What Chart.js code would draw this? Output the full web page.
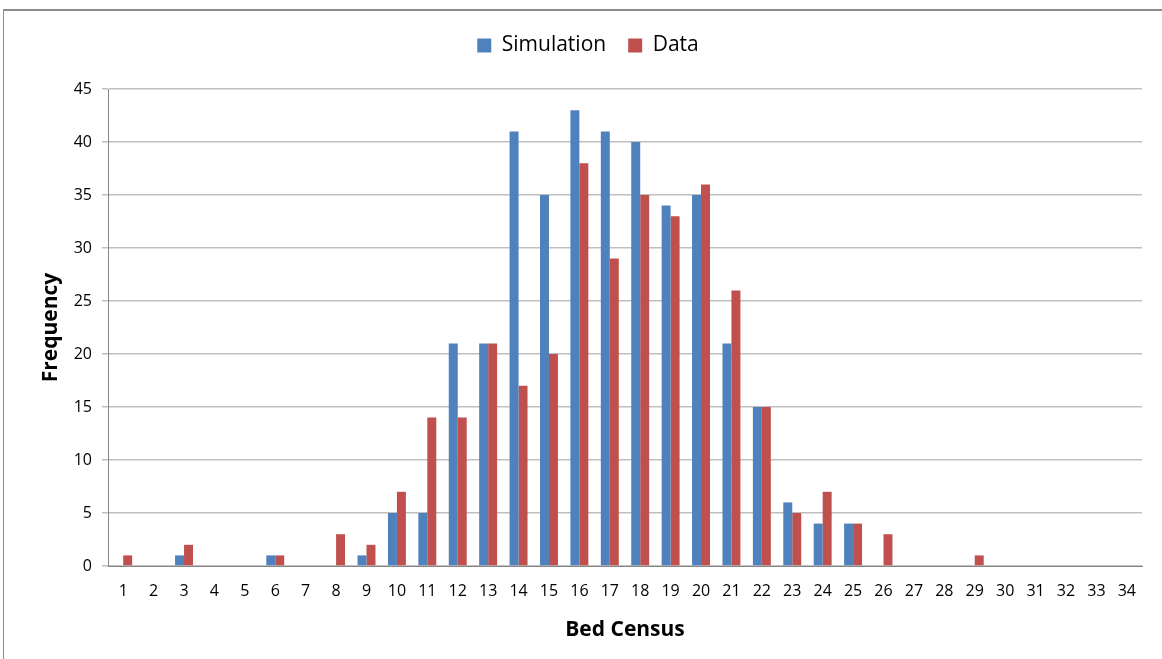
<!DOCTYPE html>
<html>
<head>
<meta charset="utf-8">
<script src="https://cdn.jsdelivr.net/npm/chart.js@4.4.0/dist/chart.umd.min.js"></script>
<style>
  html, body { margin: 0; padding: 0; background: #fff; }
  #frame {
    position: absolute; left: 3px; top: 9px; width: 1170px; height: 660px;
    border-top: 2px solid #8c8c8c; border-left: 1px solid #8c8c8c;
  }
  #wrap { position: absolute; left: 0; top: 0; width: 1162px; height: 659px; }
</style>
</head>
<body>
<div id="frame"></div>
<div id="wrap"><canvas id="chart"></canvas></div>
<script>
// bed census categories 1..34
const censusLabels = ['1','2','3','4','5','6','7','8','9','10','11','12','13','14','15','16','17',
  '18','19','20','21','22','23','24','25','26','27','28','29','30','31','32','33','34']

const simulationValues = [0,0,1,0,0,1,0,0,1,5,5,21,21,41,35,43,41,40,34,35,21,15,6,4,4,0,0,0,0,0,0,0,0,0]
const dataValues       = [1,0,2,0,0,1,0,3,2,7,14,14,21,17,20,38,29,35,33,36,26,15,5,7,4,3,0,0,1,0,0,0,0,0]

const fontFamily = "'Open Sans', 'Liberation Sans', sans-serif"

// empty box between legend and plot area, to push the plot down
const spacer = {
  id: 'spacer',
  beforeInit(chart) {
    Chart.layouts.addBox(chart, {
      position: 'top', weight: 0, fullSize: true, options: {},
      isHorizontal() { return true },
      update(maxWidth) { this.width = maxWidth; this.height = 23 },
      draw() {},
    })
  },
}

const chart = new Chart(document.getElementById('chart'), {
  type: 'bar',
  data: {
    labels: censusLabels,
    datasets: [
      { label: 'Simulation', data: simulationValues, backgroundColor: '#4f81bd' },
      { label: 'Data', data: dataValues, backgroundColor: '#c0504d' },
    ],
  },
  plugins: [spacer],
  options: {
    responsive: true,
    maintainAspectRatio: false,
    animation: false,
    datasets: { bar: { categoryPercentage: 0.59, barPercentage: 1.0 } },
    layout: { padding: { left: 34, right: 20, top: 13, bottom: 16 } },
    plugins: {
      tooltip: { enabled: false },
      legend: {
        position: 'top',
        labels: {
          color: '#000',
          font: { family: fontFamily, size: 21 },
          boxWidth: 14,
          boxHeight: 14,
          padding: 22,
        },
      },
    },
    scales: {
      x: {
        grid: { display: false, drawTicks: false },
        border: { color: '#868686', width: 1 },
        ticks: { color: '#000', font: { family: fontFamily, size: 16 }, padding: 16, maxRotation: 0, autoSkip: false },
        title: {
          display: true, text: 'Bed Census', color: '#000',
          font: { family: fontFamily, size: 21, weight: 'bold' }, padding: { top: 4, bottom: 0 },
        },
        afterFit: (scale) => { scale.height = 77 },
      },
      y: {
        min: 0, max: 45,
        ticks: { stepSize: 5, color: '#000', font: { family: fontFamily, size: 16 }, padding: 10 },
        grid: { color: '#bfbfbf', lineWidth: 1.5, tickLength: 6, tickColor: '#bfbfbf' },
        border: { color: '#868686', width: 1 },
        title: {
          display: true, text: 'Frequency', color: '#000',
          font: { family: fontFamily, size: 21, weight: 'bold' }, padding: { top: 4, bottom: 0 },
        },
        afterFit: (scale) => { scale.width = 74 },
      },
    },
  },
})
</script>
</body>
</html>
